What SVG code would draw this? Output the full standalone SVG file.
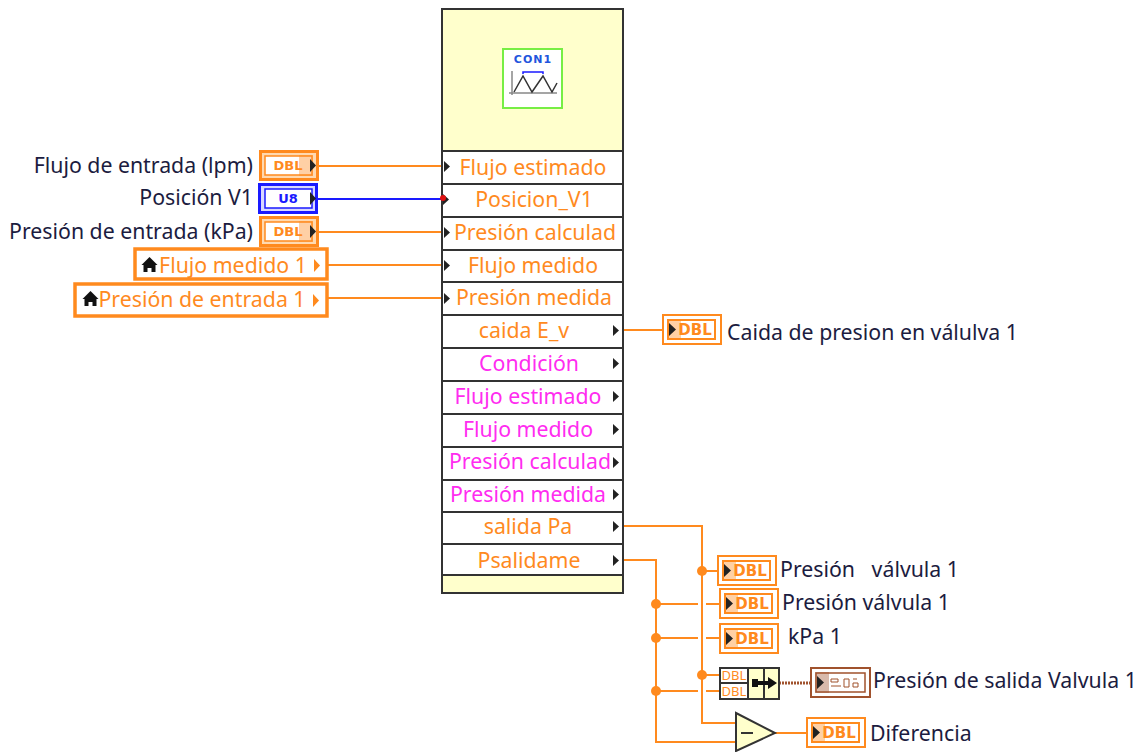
<svg xmlns="http://www.w3.org/2000/svg" width="1140" height="752" viewBox="0 0 1140 752">
<style>
text{font-family:"Noto Sans","DejaVu Sans",sans-serif;font-size:21.300px}
.row{fill:#fff;stroke:#333;stroke-width:2}
.o{fill:#ff8a1e;text-anchor:middle}
.m{fill:#ff2cf0;text-anchor:middle}
.lab{fill:#1c1c40;white-space:pre}
.labr{fill:#1c1c40;text-anchor:end}
.w{fill:none;stroke:#ff8a1e;stroke-width:2}
.term{fill:#222}
.dbl{font-family:"DejaVu Sans",sans-serif;font-weight:bold;font-size:15px;fill:#ff8a1e;text-anchor:middle}
.cdbl{font-family:"DejaVu Sans",sans-serif;font-weight:bold;font-size:13px;fill:#ff8a1e;text-anchor:middle}
.box{fill:#fff;stroke:#ff8a1e;stroke-width:2}
.inner{fill:none;stroke:#ff8a1e;stroke-width:2}
.shade{fill:#ff8a1e;opacity:.4}
.y{fill:#ffffcc;stroke:#333;stroke-width:2}
.bt{font-size:13px;fill:#ff8a1e;text-anchor:middle}
</style>
<defs>
<g id="ind">
<rect class="box" x="1" y="1" width="58" height="29"/>
<rect class="inner" x="6" y="6" width="47" height="19"/>
<rect class="shade" x="5" y="5" width="14" height="21"/>
<path class="term" d="M7 9l7 6.500-7 6.500z"/>
<text class="dbl" x="33" y="21">DBL</text>
</g>
<g id="ctl">
<rect x="1.500" y="1.500" width="57" height="28" fill="#ffd9b0" stroke="#ff8a1e" stroke-width="3"/>
<rect x="6" y="6" width="47" height="19" fill="#fff" stroke="#ff8a1e" stroke-width="1.500"/>
<rect class="shade" x="40" y="5" width="14" height="21"/>
<path class="term" d="M51 9l6 6.500-6 6.500z"/>
<text class="cdbl" x="29" y="20">DBL</text>
</g>
<path id="tri" class="term" d="M0 0l6 5.500-6 5.500z"/>
</defs>

<g id="connectors">
<path class="w" d="M318 166H441"/>
<path d="M318 199H441" fill="none" stroke="#1a1aff" stroke-width="2"/>
<path class="w" d="M318 232H441M328 265H441M328 298H441"/>
<path class="w" d="M623 330H662"/>
<path class="w" d="M623 526H702V723H736"/>
<path class="w" d="M623 560H656V742H736"/>
<path class="w" d="M702 571H717M656 604H698M706 604H719M656 638H698M706 638H719M702 675H719M656 691H698M706 691H719"/>
<path d="M779 683H810" fill="none" stroke="#a0522d" stroke-width="3" stroke-dasharray="2 1"/>
<path class="w" d="M775 733H806"/>
<g fill="#ff8a1e">
<circle cx="702" cy="571" r="5"/>
<circle cx="702" cy="675" r="5"/>
<circle cx="656" cy="604" r="5"/>
<circle cx="656" cy="638" r="5"/>
<circle cx="656" cy="691" r="5"/>
</g>
</g>

<g id="cluster-node">
<rect class="y" x="442" y="9" width="181" height="584"/>
<g id="icon">
<rect x="503" y="49" width="59" height="59" fill="#fff" stroke="#77ee44" stroke-width="2"/>
<text x="533" y="63" text-anchor="middle" style="font-family:'DejaVu Sans',sans-serif;font-size:11px;font-weight:bold;letter-spacing:1px;fill:#2255dd">CON1</text>
<path d="M512 71V95M509 93H557" fill="none" stroke="#888" stroke-width="1.500"/>
<path d="M514 92L523 76L532 92L543 76L552 92L557 83" fill="none" stroke="#333" stroke-width="1.500"/>
<path d="M523 74V72H543V74" fill="none" stroke="#1a1aff" stroke-width="1.500"/>
</g>
<rect class="row" x="442" y="151" width="181" height="33"/>
<rect class="row" x="442" y="184" width="181" height="33"/>
<rect class="row" x="442" y="217" width="181" height="33"/>
<rect class="row" x="442" y="250" width="181" height="32"/>
<rect class="row" x="442" y="282" width="181" height="33"/>
<rect class="row" x="442" y="315" width="181" height="33"/>
<rect class="row" x="442" y="348" width="181" height="33"/>
<rect class="row" x="442" y="381" width="181" height="33"/>
<rect class="row" x="442" y="414" width="181" height="33"/>
<rect class="row" x="442" y="447" width="181" height="33"/>
<rect class="row" x="442" y="480" width="181" height="32"/>
<rect class="row" x="442" y="512" width="181" height="32"/>
<rect class="row" x="442" y="544" width="181" height="31"/>
<text class="o" x="533" y="175">Flujo estimado</text>
<text class="o" x="534" y="207">Posicion_V1</text>
<text class="o" x="535" y="240">Presión calculad</text>
<text class="o" x="533" y="273">Flujo medido</text>
<text class="o" x="534" y="305">Presión medida</text>
<text class="o" x="524" y="338">caida E_v</text>
<text class="m" x="529" y="371">Condición</text>
<text class="m" x="528" y="404">Flujo estimado</text>
<text class="m" x="528" y="437">Flujo medido</text>
<text class="m" x="530" y="469">Presión calculad</text>
<text class="m" x="528" y="502">Presión medida</text>
<text class="o" x="528" y="534">salida Pa</text>
<text class="o" x="529" y="568">Psalidame</text>
<use href="#tri" x="444" y="161"/><use href="#tri" x="443" y="194"/><use href="#tri" x="444" y="227"/><use href="#tri" x="444" y="260"/><use href="#tri" x="444" y="293"/>
<circle cx="443" cy="198" r="3" fill="#e01010"/>
<use href="#tri" x="613" y="325"/><use href="#tri" x="613" y="358"/><use href="#tri" x="613" y="391"/><use href="#tri" x="613" y="424"/><use href="#tri" x="613" y="457"/><use href="#tri" x="613" y="489"/><use href="#tri" x="613" y="521"/><use href="#tri" x="613" y="555"/>
</g>

<g id="ctl-flujo"><use href="#ctl" x="259" y="150"/><text class="labr" x="253" y="173">Flujo de entrada (lpm)</text></g>
<g id="ctl-pos">
<rect x="259.500" y="184.500" width="57" height="28" fill="#d8d8ff" stroke="#1a1aff" stroke-width="3"/>
<rect x="265" y="189" width="47" height="19" fill="#fff" stroke="#1a1aff" stroke-width="1.500"/>
<path class="term" d="M310 192l6 6.500-6 6.500z"/>
<text class="cdbl" x="288" y="203" style="fill:#1a1aff">U8</text>
<text class="labr" x="253" y="205">Posición V1</text>
</g>
<g id="ctl-pres"><use href="#ctl" x="259" y="216"/><text class="labr" x="253" y="239">Presión de entrada (kPa)</text></g>
<g id="local-flujo">
<rect x="135" y="249" width="192" height="30" fill="#fff" stroke="#ff8a1e" stroke-width="3.500"/>
<path d="M149.500 257l8 8h-2v7h-4v-4h-4v4h-4v-7h-2z" fill="#111"/>
<text x="233" y="273" text-anchor="middle" style="fill:#ff8a1e">Flujo medido 1</text>
<path d="M314 259l6 6.500-6 6.500z" fill="#ff8a1e"/>
</g>
<g id="local-pres">
<rect x="75" y="284" width="252" height="32" fill="#fff" stroke="#ff8a1e" stroke-width="3.500"/>
<path d="M90.500 291l8 8h-2v7h-4v-4h-4v4h-4v-7h-2z" fill="#111"/>
<text x="202" y="307" text-anchor="middle" style="fill:#ff8a1e">Presión de entrada 1</text>
<path d="M313 294l6 6.500-6 6.500z" fill="#ff8a1e"/>
</g>
<g id="ind-caida"><use href="#ind" x="662" y="314"/><text class="lab" x="727" y="340">Caida de presion en válulva 1</text></g>
<g id="ind-1"><use href="#ind" x="717" y="555"/><text class="lab" x="780" y="577">Presión   válvula 1</text></g>
<g id="ind-2"><use href="#ind" x="719" y="588"/><text class="lab" x="782" y="610">Presión válvula 1</text></g>
<g id="ind-3"><use href="#ind" x="719" y="623"/><text class="lab" x="788" y="644">kPa 1</text></g>
<g id="bundle">
<rect class="row" x="720" y="668" width="59" height="31"/>
<rect class="y" x="748" y="668" width="16" height="31"/>
<rect class="y" x="764" y="668" width="15" height="31"/>
<path d="M720 683H748" stroke="#333" stroke-width="2"/>
<text class="bt" x="734" y="680">DBL</text>
<text class="bt" x="734" y="696">DBL</text>
<path d="M752 679h6v8h-6zM758 681h10v-4l9 6-9 6v-4h-10z" fill="#111"/>
</g>
<g id="ind-arr">
<rect x="811" y="668" width="59" height="29" fill="#fff" stroke="#a0522d" stroke-width="2"/>
<rect x="816" y="673" width="49" height="19" fill="none" stroke="#a0522d" stroke-width="1.500"/>
<rect x="815" y="672" width="14" height="21" fill="#a0522d" opacity=".4"/>
<path class="term" d="M817 676l7 6.500-7 6.500z"/>
<path d="M831 679h7v3h-7zM831 686h10M844 679h5v8h-5zM853 679h4M853 683h5v4h-5z" fill="none" stroke="#a0522d" stroke-width="1"/>
<text class="lab" x="873" y="688">Presión de salida Valvula 1</text>
</g>
<g id="subtract">
<path d="M736 713L775 733L736 751Z" fill="#ffffcc" stroke="#333" stroke-width="2"/>
<path d="M741 733H753" stroke="#333" stroke-width="2"/>
</g>
<g id="ind-dif"><use href="#ind" x="806" y="717"/><text class="lab" x="870" y="741">Diferencia</text></g>
</svg>
